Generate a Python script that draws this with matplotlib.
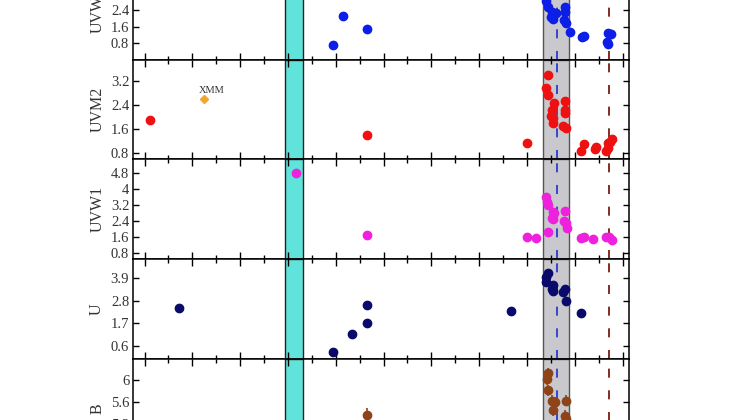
import matplotlib
matplotlib.use("Agg")
import matplotlib.pyplot as plt
from matplotlib.ticker import FixedLocator, MultipleLocator

plt.rcParams["font.family"] = ["Liberation Serif", "DejaVu Serif"]

# ---- data (time axis in arbitrary units, magnitudes / fluxes per band) ----
uvw2_x = [8.40, 8.45, 8.52, 8.50, 8.54, 8.61, 8.80, 8.80, 8.78, 8.82, 8.90,
          9.15, 9.20, 9.70, 9.75, 9.67, 9.70, 4.16, 4.65, 3.95]
uvw2_y = [2.84, 2.52, 2.31, 2.07, 1.95, 2.24, 2.55, 2.31, 1.92, 1.76, 1.36,
          1.09, 1.15, 1.31, 1.25, 0.85, 0.77, 2.12, 1.47, 0.72]

uvm2_x = [8.44, 8.40, 8.43, 8.57, 8.80, 8.53, 8.50, 8.55, 8.54, 8.80, 8.80,
          8.76, 8.81, 8.01, 9.19, 9.13, 9.45, 9.42, 9.69, 9.77, 9.74, 9.65,
          9.70, 0.12, 4.65]
uvm2_y = [3.39, 2.97, 2.73, 2.48, 2.53, 2.23, 2.04, 1.96, 1.81, 2.23, 2.15,
          1.70, 1.63, 1.15, 1.10, 0.88, 1.02, 0.94, 1.13, 1.26, 1.19, 0.89,
          0.97, 1.90, 1.41]
xmm_x = [1.24]
xmm_y = [2.59]

uvw1_x = [8.40, 8.41, 8.44, 8.54, 8.57, 8.52, 8.55, 8.80, 8.78, 8.82, 8.83,
          8.44, 8.01, 8.19, 9.13, 9.19, 9.39, 9.65, 9.71, 9.77, 3.16, 4.65]
uvw1_y = [3.58, 3.36, 3.20, 2.86, 2.78, 2.53, 2.48, 2.91, 2.41, 2.29, 2.07,
          1.84, 1.59, 1.57, 1.54, 1.62, 1.49, 1.62, 1.59, 1.46, 4.80, 1.70]

u_x = [8.44, 8.40, 8.40, 8.55, 8.52, 8.55, 8.80, 8.76, 8.82, 7.67, 9.13,
       0.73, 4.65, 4.65, 4.35, 3.95]
u_y = [4.16, 3.97, 3.73, 3.57, 3.36, 3.27, 3.40, 3.24, 2.80, 2.30, 2.22,
       2.43, 2.59, 1.70, 1.18, 0.29]

b_x = [8.43, 8.42, 8.45, 8.52, 8.58, 8.55, 8.81, 8.79, 8.82, 4.65]
b_y = [6.12, 6.01, 5.81, 5.62, 5.59, 5.45, 5.62, 5.35, 5.28, 5.37]
b_err = [0.10, 0.10, 0.10, 0.10, 0.10, 0.10, 0.10, 0.10, 0.10, 0.12]

band_names = ["UVW2", "UVM2", "UVW1", "U", "B"]
band_ylims = [(0.0, 4.78), (0.60, 3.89), (0.51, 5.46), (-0.04, 4.83), (4.57, 6.38)]
band_yticks = [[0.8, 1.6, 2.4, 3.2, 4.0],
               [0.8, 1.6, 2.4, 3.2],
               [0.8, 1.6, 2.4, 3.2, 4.0, 4.8],
               [0.6, 1.7, 2.8, 3.9],
               [4.8, 5.2, 5.6, 6.0]]

cyan_span = (2.94, 3.32)
gray_span = (8.33, 8.87)
blue_line = 8.63
brown_line = 9.71

fig = plt.figure(figsize=(7.44, 4.2), dpi=100)

left, width, height = 0.1792, 0.6663, 0.2374
bottoms = [0.85714, 0.62024, 0.38333, 0.14524, -0.09190]

axes = []
for i, name in enumerate(band_names):
    ax = fig.add_axes([left, bottoms[i], width, height])
    ax.set_xlim(-0.235, 10.136)
    ax.set_ylim(*band_ylims[i])
    ax.xaxis.set_major_locator(MultipleLocator(1.0))
    ax.xaxis.set_minor_locator(MultipleLocator(0.5))
    ax.yaxis.set_major_locator(FixedLocator(band_yticks[i]))
    ax.set_yticklabels([f"{v:g}" for v in band_yticks[i]])
    ax.tick_params(axis="both", which="both", direction="in", top=True, right=True,
                   labelbottom=False, labelsize=10.5, labelcolor="#333333")
    ax.tick_params(axis="x", which="major", length=5, width=1.0)
    ax.tick_params(axis="x", which="minor", length=3, width=1.0)
    ax.tick_params(axis="y", which="major", length=4, width=1.0, pad=3)
    for sp in ax.spines.values():
        sp.set_linewidth(1.1)
    ax.set_ylabel(name, fontsize=11.5, color="#333333", labelpad=4)
    ax.axvspan(*cyan_span, facecolor="#5fe3da", edgecolor="#222222", linewidth=1.0, zorder=0)
    ax.axvspan(*gray_span, facecolor="#c9c9cd", edgecolor="#555555", linewidth=1.0, zorder=0)
    ax.axvline(blue_line, color="#2a3bd0", linestyle=(0, (5, 7)), linewidth=1.3, zorder=1)
    ax.axvline(brown_line, color="#7a1c10", linestyle=(0, (5, 7)), linewidth=1.3, zorder=1)
    axes.append(ax)

axes[0].plot(uvw2_x, uvw2_y, "o", color="#0d1ee6", markersize=6, zorder=3)
axes[1].plot(uvm2_x, uvm2_y, "o", color="#ee1111", markersize=6, zorder=3)
axes[1].plot(xmm_x, xmm_y, "D", color="#f5a52a", markersize=4, zorder=3)
axes[1].text(xmm_x[0] + 0.16, xmm_y[0] + 0.28, "XMM", fontsize=7.5, color="#333333",
             ha="center", va="center")
axes[2].plot(uvw1_x, uvw1_y, "o", color="#ee22dd", markersize=6, zorder=3)
axes[3].plot(u_x, u_y, "o", color="#0a0a6a", markersize=6, zorder=3)
axes[4].errorbar(b_x, b_y, yerr=b_err, fmt="o", color="#8e4418", markersize=6,
                 elinewidth=1.2, capsize=0, zorder=3)

fig.savefig("out.png", dpi=100)
